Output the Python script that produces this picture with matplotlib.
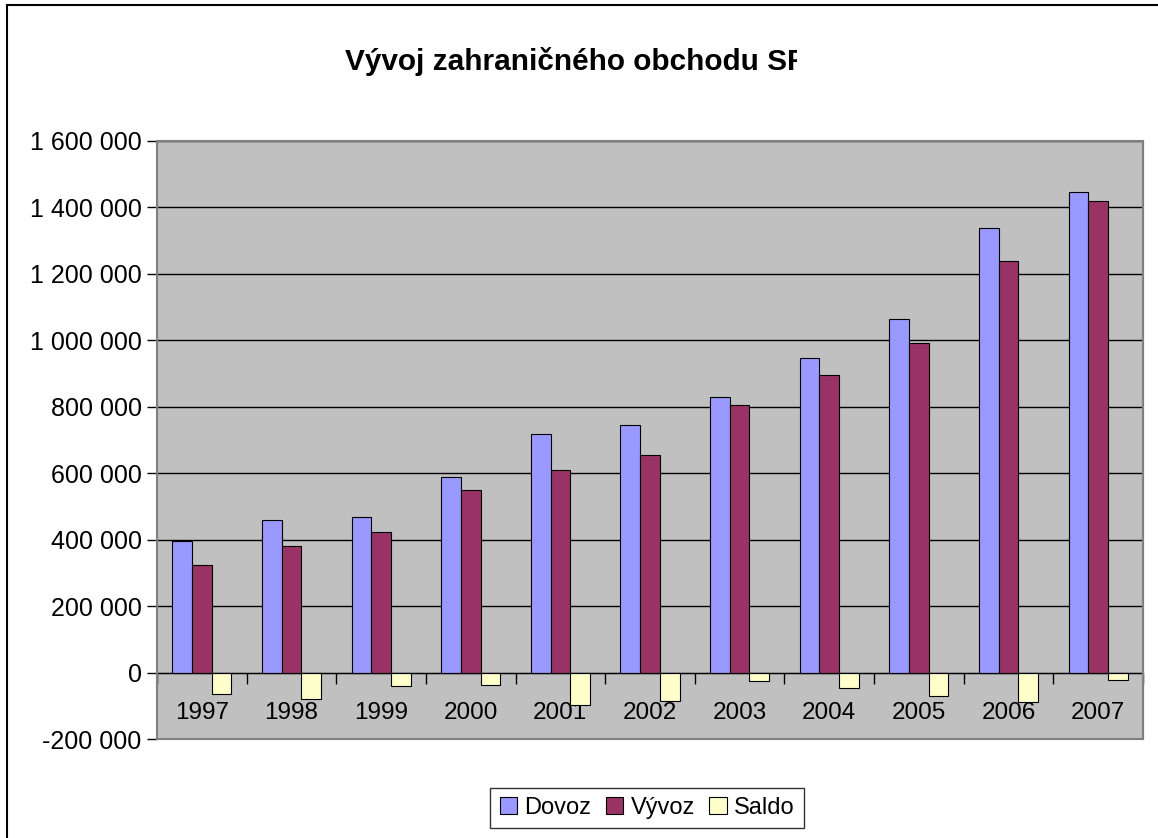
import matplotlib
matplotlib.use("Agg")
import matplotlib.pyplot as plt
import numpy as np
from matplotlib.patches import Rectangle
from matplotlib.ticker import FuncFormatter

plt.rcParams["font.family"] = ["Liberation Sans", "DejaVu Sans"]

# ── data ──────────────────────────────────────────────────────────────────────
years = ["1997", "1998", "1999", "2000", "2001", "2002",
         "2003", "2004", "2005", "2006", "2007"]
dovoz = [395000, 460000, 467000, 589000, 719000, 745000,
         829000, 947000, 1063000, 1337000, 1447000]
vyvoz = [323000, 381000, 422000, 551000, 610000, 655000,
         804000, 896000, 993000, 1240000, 1420000]
saldo = [-66000, -80000, -41000, -38000, -99000, -87000,
         -26000, -47000, -72000, -90000, -21000]

series_names = ["Dovoz", "Vývoz", "Saldo"]
colors = ["#9999FF", "#993366", "#FFFFCC"]

W, H = 1158, 838
fig = plt.figure(figsize=(W / 100, H / 100), dpi=100)
fig.patch.set_facecolor("white")

# outer chart frame (right/bottom edges fall outside the picture)
fig.add_artist(Rectangle((7 / W, -0.1), 1.2, (H - 5) / H + 0.1,
                         transform=fig.transFigure, fill=False,
                         edgecolor="black", lw=1.5, clip_on=False))

ax = fig.add_axes([157 / W, (H - 739) / H, (1143 - 157) / W, (739 - 141) / H])
ax.set_facecolor("#C0C0C0")

x = np.arange(len(years))
bw = 0.22
for i, (vals, name, col) in enumerate(zip([dovoz, vyvoz, saldo], series_names, colors)):
    ax.bar(x + (i - 1) * bw, vals, bw, color=col, edgecolor="black",
           linewidth=0.8, label=name, zorder=2)

ax.set_xlim(-0.5, len(years) - 0.5)
ax.set_ylim(-200000, 1600000)
ax.set_yticks(np.arange(-200000, 1600001, 200000))
ax.yaxis.set_major_formatter(FuncFormatter(lambda v, p: f"{int(v):,}".replace(",", " ")))
ax.yaxis.grid(True, color="black", lw=1)
ax.set_axisbelow(True)
ax.tick_params(axis="y", direction="out", length=7, width=1, color="black",
               labelsize=18, pad=4)

# category axis sits at zero, ticks between groups, labels under the axis
ax.spines["bottom"].set_position(("data", 0))
ax.spines["bottom"].set_color("black")
ax.spines["bottom"].set_zorder(3)
for s in ["left", "top", "right"]:
    ax.spines[s].set_color("#808080")
ax.add_patch(Rectangle((0, 0), 1, 1, transform=ax.transAxes, fill=False,
                       edgecolor="#808080", lw=1.5, zorder=4, clip_on=False))

ax.set_xticks(np.arange(-0.5, len(years)), minor=False)
ax.set_xticklabels([""] * (len(years) + 1))
ax.set_xticks(x, minor=True)
ax.set_xticklabels(years, minor=True)
ax.tick_params(axis="x", which="major", direction="out", length=8, width=1, color="black")
ax.tick_params(axis="x", which="minor", length=0, labelsize=17.5, pad=21)

# title (clipped on the right as in the reference)
t = fig.text(345 / W, 1 - 62 / H, "Vývoj zahraničného obchodu SR",
             fontsize=21.4, fontweight="bold", ha="left", va="center")
t.set_clip_path(Rectangle((0, 0), 797 / W, 1, transform=fig.transFigure))

leg = fig.legend(loc="center", bbox_to_anchor=(647 / W, 1 - 808 / H), ncol=3,
                 fontsize=17, frameon=True, fancybox=False, edgecolor="black",
                 handlelength=0.75, handleheight=0.75, handletextpad=0.3,
                 columnspacing=0.6, borderpad=0.4)
leg.get_frame().set_linewidth(1)

fig.savefig("out.png", dpi=100)
